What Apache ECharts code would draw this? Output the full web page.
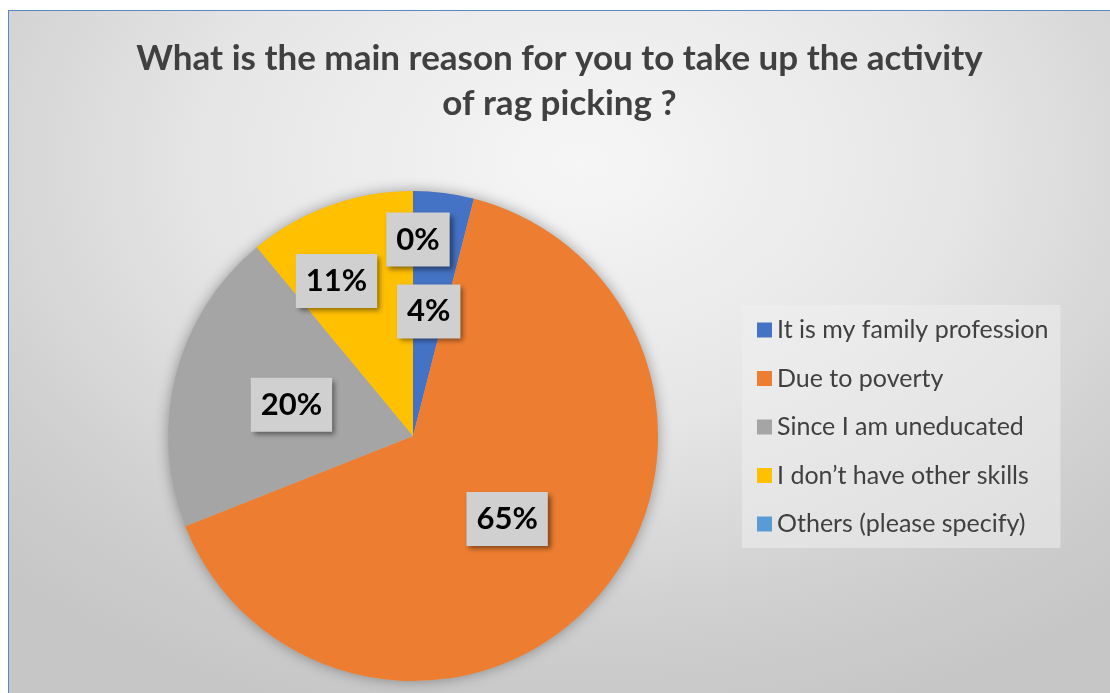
<!DOCTYPE html>
<html>
<head>
<meta charset="utf-8">
<script src="https://cdn.jsdelivr.net/npm/echarts@6/dist/echarts.min.js"></script>
<style>
  html, body { margin: 0; padding: 0; background: #ffffff; }
  #frame {
    position: absolute; left: 8px; top: 10px;
    width: 1102px; height: 683px; box-sizing: border-box;
    border-top: 1px solid #5b86c9; border-left: 1px solid #5b86c9;
    background: radial-gradient(ellipse 75% 85% at 52% 22%, #f6f6f6 0%, #e6e6e6 45%, #cfcfcf 80%, #c6c6c6 100%);
  }
  #chart { width: 100%; height: 100%; }
</style>
</head>
<body>
<div id="frame"><div id="chart"></div></div>
<script>
// Survey answers: main reason for taking up rag picking (percent of respondents)
const categories = [
  'It is my family profession',
  'Due to poverty',
  'Since I am uneducated',
  'I don\u2019t have other skills',
  'Others (please specify)'
];
const shares = [4, 65, 20, 11, 0];
const sliceColors = ['#4472C4', '#ED7D31', '#A5A5A5', '#FFC000', '#5B9BD5'];

// label nudges (px) for the small slices near the top
const labelNudge = { 3: [-34, -37], 4: [5, -71] };

const chart = echarts.init(document.getElementById('chart'), null, { renderer: 'canvas' });

const pieCenter = [404, 425];
const pieRadius = 245;

chart.setOption({
  backgroundColor: 'transparent',
  title: {
    text: 'What is the main reason for you to take up the activity\nof rag picking ?',
    left: 'center',
    top: 20,
    textStyle: {
      fontFamily: 'Lato',
      fontWeight: 'bold',
      fontSize: 35,
      lineHeight: 45,
      color: '#404040'
    }
  },
  legend: {
    orient: 'vertical',
    left: 733,
    top: 294,
    data: categories,
    icon: 'rect',
    itemWidth: 15,
    itemHeight: 15,
    itemGap: 20.5,
    padding: [11, 12, 10, 15],
    backgroundColor: 'rgba(238,238,238,0.55)',
    selectedMode: false,
    textStyle: {
      fontFamily: 'Lato',
      fontSize: 25,
      lineHeight: 28,
      color: '#404040'
    }
  },
  series: [
    {
      // soft drop shadow under the whole disc
      type: 'pie',
      silent: true,
      center: pieCenter,
      radius: pieRadius,
      z: 1,
      label: { show: false },
      labelLine: { show: false },
      emphasis: { disabled: true },
      data: [{ value: 1, name: '', itemStyle: { color: '#b8b8b8', shadowBlur: 14, shadowColor: 'rgba(0,0,0,0.35)' } }]
    },
    {
      type: 'pie',
      center: pieCenter,
      radius: pieRadius,
      startAngle: 90,
      clockwise: true,
      z: 2,
      avoidLabelOverlap: false,
      minShowLabelAngle: 0,
      itemStyle: { borderWidth: 0 },
      data: categories.map((name, i) => ({
        name: name,
        value: shares[i],
        itemStyle: { color: sliceColors[i] }
      })),
      label: {
        show: true,
        position: 'inside',
        formatter: (p) => p.value + '%',
        fontFamily: 'Lato',
        fontWeight: 'bold',
        fontSize: 31,
        lineHeight: 34,
        color: '#000000',
        backgroundColor: '#d1d0d0',
        padding: [10, 10, 10, 10],
        shadowColor: 'rgba(0,0,0,0.45)',
        shadowBlur: 5,
        shadowOffsetX: 3,
        shadowOffsetY: 3
      },
      labelLine: { show: false },
      labelLayout: (params) => {
        const n = labelNudge[params.dataIndex];
        return n ? { dx: n[0], dy: n[1] } : {};
      },
      emphasis: { disabled: true }
    }
  ]
});
</script>
</body>
</html>
